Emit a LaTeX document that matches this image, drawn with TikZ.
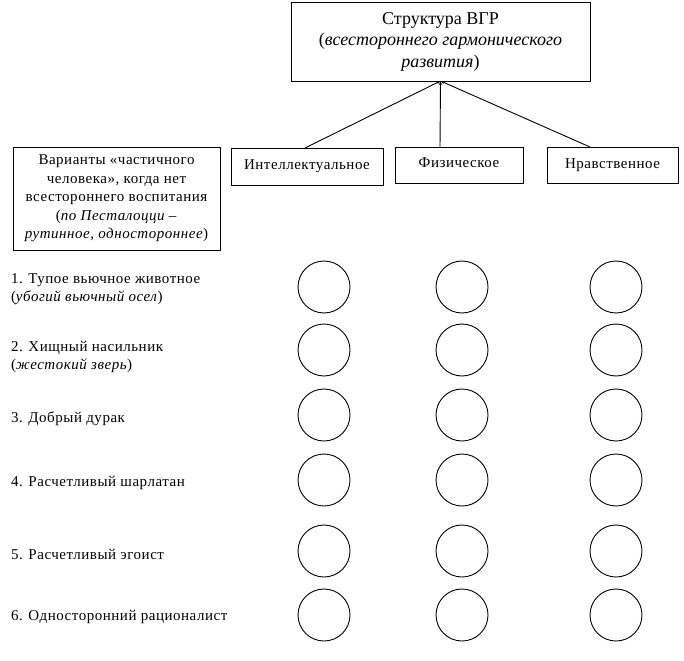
\documentclass[tikz,border=0pt]{standalone}
\usepackage{fontspec}
\setmainfont{Liberation Serif}
\newfontfamily\bodyfam[LetterSpace=3.5]{Liberation Serif}
\usetikzlibrary{arrows.meta}
\begin{document}
\begin{tikzpicture}[x=1pt,y=-1pt,
  every node/.style={inner sep=0pt,outer sep=0pt},
  bx/.style={draw,line width=0.9pt,rectangle},
  bodyfont/.style={font=\bodyfam\fontsize{15}{18.5}\selectfont},
  titlefont/.style={font=\fontsize{18}{21.5}\selectfont},
  ring/.style={draw,line width=0.9pt,circle,minimum size=52pt},
  lbl/.style={bodyfont,align=left,anchor=west},
  conn/.style={line width=0.9pt,-{Stealth[length=4pt,width=3pt]}}]
\useasboundingbox (0,0) rectangle (684,660);
% top box
\node[bx,titlefont,minimum width=299pt,minimum height=79pt,align=center] (top) at (440.5,41.5)
  {Структура ВГР\\(\textit{всестороннего гармонического}\\\textit{развития})};
% sub boxes
\node[bx,bodyfont,minimum width=152pt,minimum height=37pt] (intel) at (307,166.5) {Интеллектуальное};
\node[bx,bodyfont,minimum width=128pt,minimum height=36pt] (phys) at (459,165) {\raisebox{4pt}{Физическое}};
\node[bx,bodyfont,minimum width=131pt,minimum height=36pt] (moral) at (612.5,165) {\raisebox{2pt}{Нравственное}};
% connectors
\draw[conn] ([xshift=-2pt]intel.north) -- (top.south);
\draw[conn] ([xshift=-19pt]phys.north) -- (top.south);
\draw[conn] ([xshift=-22.5pt]moral.north) -- (top.south);
% left box
\node[bx,bodyfont,minimum width=207pt,minimum height=103pt,align=center] (left) at (116.5,198.5)
  {Варианты «частичного\\человека», когда нет\\всестороннего воспитания\\(\textit{по Песталоцци –}\\\textit{рутинное, одностороннее})};
% row labels
\node[lbl] (r1) at (11,289) {1. Тупое вьючное животное\\(\textit{убогий вьючный осел})};
\node[lbl] (r2) at (11,357) {2. Хищный насильник\\(\textit{жестокий зверь})};
\node[lbl] (r3) at (11,419) {3. Добрый дурак};
\node[lbl] (r4) at (11,483) {4. Расчетливый шарлатан};
\node[lbl] (r5) at (11,554) {5. Расчетливый эгоист};
\node[lbl] (r6) at (11,617) {6. Односторонний рационалист};
% circles
\foreach \i/\y in {1/287,2/350,3/415,4/480,5/551,6/615}{
  \node[ring] (ca\i) at (324,\y) {};
  \node[ring] (cb\i) at (462,\y) {};
  \node[ring] (cc\i) at (616,\y) {};
}
\end{tikzpicture}
\end{document}
